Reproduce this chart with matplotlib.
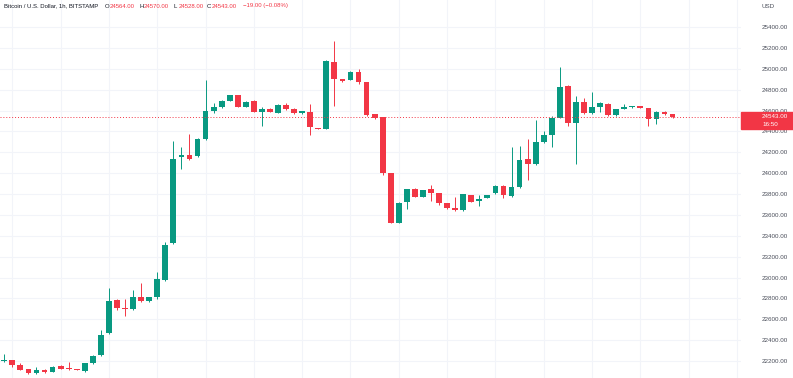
import matplotlib
matplotlib.use("Agg")
import matplotlib.pyplot as plt
from matplotlib.patches import Rectangle
import numpy as np

opens = [22205, 22210, 22165, 22124, 22083, 22115, 22100, 22153, 22132, 22124,
         22105, 22185, 22255, 22466, 22782, 22706, 22699, 22811, 22773, 22811,
         22977, 23331, 24158, 24177, 24164, 24324, 24598, 24631, 24694, 24746,
         24637, 24691, 24590, 24615, 24579, 24653, 24615, 24573, 24589, 24433,
         24423, 25062, 24899, 24892, 24972, 24870, 24564, 24535, 23999, 23526,
         23727, 23848, 23775, 23848, 23807, 23711, 23670, 23644, 23791, 23735,
         23765, 23807, 23880, 23781, 23865, 24133, 24088, 24295, 24366, 24531,
         24838, 24478, 24684, 24573, 24637, 24665, 24557, 24618, 24631, 24643,
         24621, 24519, 24589, 24564]
highs = [22268, 22215, 22178, 22128, 22140, 22120, 22150, 22162, 22194, 22128,
         22182, 22261, 22498, 22903, 22790, 22795, 22881, 22951, 22815, 23053,
         23344, 24308, 24248, 24375, 24340, 24892, 24675, 24700, 24750, 24750,
         24690, 24700, 24630, 24620, 24660, 24669, 24620, 24598, 24662, 24435,
         25080, 25269, 24900, 24975, 25000, 24875, 24568, 24540, 24003, 23720,
         23852, 23855, 23840, 23884, 23810, 23715, 23775, 23802, 23795, 23790,
         23795, 23885, 23885, 24248, 24260, 24325, 24509, 24407, 24550, 25020,
         24842, 24739, 24717, 24780, 24685, 24670, 24615, 24660, 24648, 24648,
         24625, 24593, 24593, 24570]
lows = [22195, 22145, 22110, 22076, 22080, 22090, 22095, 22120, 22118, 22110,
        22100, 22172, 22250, 22460, 22690, 22635, 22690, 22770, 22770, 22797,
        22964, 23320, 24037, 24130, 24155, 24315, 24573, 24625, 24690, 24630,
        24630, 24585, 24455, 24585, 24575, 24610, 24568, 24568, 24366, 24420,
        24420, 24643, 24875, 24888, 24851, 24550, 24520, 23980, 23520, 23520,
        23654, 23770, 23770, 23733, 23700, 23660, 23640, 23640, 23720, 23688,
        23760, 23800, 23765, 23775, 23860, 23935, 24080, 24290, 24248, 24525,
        24452, 24085, 24570, 24568, 24590, 24550, 24552, 24612, 24628, 24620,
        24452, 24471, 24560, 24528]
closes = [22215, 22165, 22117, 22089, 22112, 22095, 22146, 22127, 22122, 22112,
          22178, 22249, 22450, 22773, 22706, 22696, 22811, 22773, 22811, 22983,
          23312, 24133, 24170, 24139, 24330, 24593, 24631, 24694, 24746, 24637,
          24684, 24589, 24615, 24590, 24653, 24615, 24573, 24593, 24445, 24423,
          25077, 24899, 24880, 24969, 24876, 24557, 24526, 23999, 23526, 23717,
          23848, 23775, 23836, 23813, 23711, 23663, 23644, 23798, 23727, 23752,
          23791, 23880, 23791, 23870, 24126, 24088, 24301, 24363, 24526, 24828,
          24483, 24684, 24573, 24634, 24675, 24557, 24612, 24637, 24643, 24627,
          24516, 24589, 24564, 24543]

price_ticks = [22200, 22400, 22600, 22800, 23000, 23200, 23400, 23600, 23800,
               24000, 24200, 24400, 24600, 24800, 25000, 25200, 25400]
last_price = 24543
countdown = "16:50"
title = "Bitcoin / U.S. Dollar, 1h, BITSTAMP"
ohlc_labels = ["O", "H", "L", "C"]
ohlc_values = ["24564.00", "24570.00", "24528.00", "24543.00"]
change_text = "\u221219.00 (\u22120.08%)"

UP = "#089981"
DOWN = "#f23645"
TXT = "#131722"
GRID = "#f2f4f9"

W, H = 793, 378
fig = plt.figure(figsize=(W / 100, H / 100), dpi=100)
fig.patch.set_facecolor("white")
ax = fig.add_axes([0, 0, 741 / W, 1])
ax.set_facecolor("white")

o = np.array(opens, float)
h = np.array(highs, float)
l = np.array(lows, float)
c = np.array(closes, float)
x = np.arange(len(o))
up = c >= o
cols = np.where(up, UP, DOWN)

# grid
for t in price_ticks:
    ax.axhline(t, color=GRID, lw=0.8, zorder=0)
for gx in range(1, 92, 6):
    ax.axvline(gx, color=GRID, lw=0.8, zorder=0)

ax.vlines(x, l, h, colors=cols, lw=0.7, zorder=2)
bottoms = np.minimum(o, c)
heights = np.maximum(np.abs(c - o), 10)
ax.bar(x, heights, bottom=bottoms, width=0.72, color=cols, zorder=3, linewidth=0)

ax.axhline(last_price, color=DOWN, lw=0.7, ls=(0, (1, 2)), zorder=4)

ax.set_xlim(-0.53, 91.5)
ax.set_ylim(22038, 25659)
ax.set_xticks([])
ax.yaxis.tick_right()
ax.set_yticks(price_ticks)
ax.set_yticklabels([f"{t:.2f}" for t in price_ticks], fontsize=4.5,
                   color="#4a4e5a", family="Liberation Sans")
ax.tick_params(axis="y", length=0, pad=15)
for s in ax.spines.values():
    s.set_visible(False)

def fx(px):
    return px / W

def fy(py):
    return 1 - py / H

fig.text(fx(762), fy(7), "USD", fontsize=4.5, color="#4a4e5a",
         family="Liberation Sans", va="center", ha="left")

# header
fs = 4.3
fig.text(fx(4), fy(6), title, fontsize=fs, color=TXT, family="Liberation Sans",
         va="center", ha="left")
lx = [105, 139, 174, 207]
vx = [110, 144, 179, 212]
for lab, val, a, b in zip(ohlc_labels, ohlc_values, lx, vx):
    fig.text(fx(a), fy(6), lab, fontsize=fs, color=TXT, family="Liberation Sans",
             va="center", ha="left")
    fig.text(fx(b), fy(6), val, fontsize=fs, color=DOWN, family="Liberation Sans",
             va="center", ha="left")
fig.text(fx(243), fy(6), change_text, fontsize=fs, color=DOWN,
         family="Liberation Sans", va="center", ha="left")

# last price box
fig.patches.append(Rectangle((fx(741), fy(128.5)), 52 / W, 17 / H,
                             transform=fig.transFigure, color=DOWN, zorder=5))
fig.text(fx(762), fy(116), f"{last_price:.2f}", fontsize=4.5, color="white",
         family="Liberation Sans", va="center", ha="left", zorder=6)
fig.text(fx(762), fy(124.5), countdown, fontsize=4.5, color="white",
         family="Liberation Sans", va="center", ha="left", zorder=6)

fig.savefig("out.png", dpi=100, facecolor="white")
